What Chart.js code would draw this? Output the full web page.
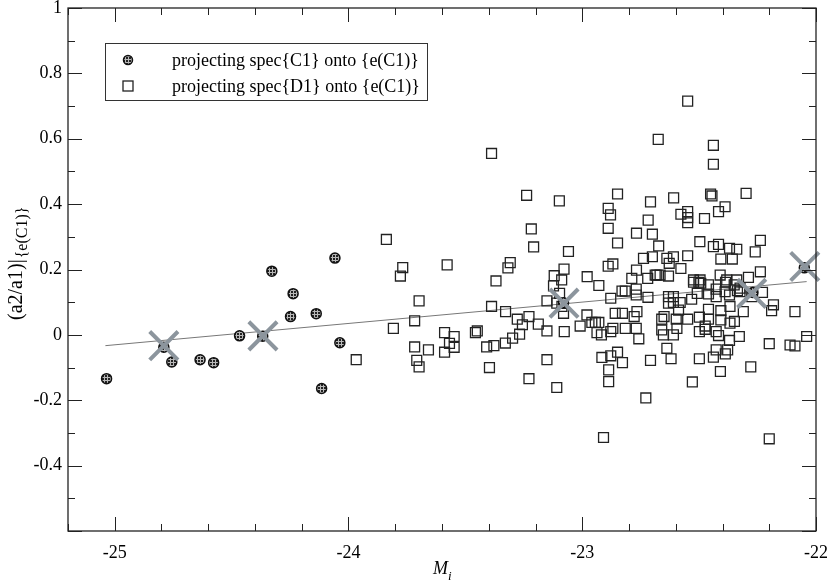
<!DOCTYPE html>
<html>
<head>
<meta charset="UTF-8">
<title>a2/a1 vs M_i</title>
<script src="https://cdn.jsdelivr.net/npm/chart.js"></script>
<style>
  html, body { margin: 0; padding: 0; background: #fff; overflow: hidden; }
  #wrap { width: 830px; height: 582px; position: relative; }
  #chart { display: block; }
</style>
</head>
<body>
<div id="wrap"><canvas id="chart"></canvas></div>
<script>
// spec{C1} projected onto {e(C1)}
var c1X = [-25.035, -24.790, -24.756, -24.635, -24.577, -24.466, -24.367, -24.328, -24.237,
           -24.248, -24.138, -24.058, -24.037, -24.115, -23.080, -22.270, -22.050];
var c1Y = [-0.134, -0.038, -0.083, -0.076, -0.085, -0.003, -0.004, 0.195, 0.126,
           0.056, 0.065, 0.235, -0.024, -0.164, 0.098, 0.130, 0.205];

// spec{D1} projected onto {e(C1)}
var d1X = [-23.388, -23.238, -23.838, -23.218, -23.208, -23.768, -23.778, -23.578, -23.308, -23.318,
           -23.369, -23.698, -23.388, -23.328, -23.278, -23.228, -23.256, -23.188, -23.151, -23.151,
           -23.717, -23.808, -23.589, -23.548, -23.568, -23.548, -23.589, -23.717, -23.658, -23.708,
           -23.698, -23.967, -23.457, -23.449, -23.409, -23.378, -23.329, -23.298, -23.268, -23.397,
           -23.228, -23.151,
           -22.675, -23.098, -22.849, -22.708, -22.889, -22.879, -22.718, -22.889, -22.768, -22.700,
           -23.059, -22.849, -22.673, -22.738, -22.700, -23.078, -22.889, -22.869, -22.768, -23.120,
           -23.088, -22.979, -22.788, -22.720, -22.681,
           -22.929, -22.878, -22.830, -22.816, -22.769, -22.769, -22.719, -23.097, -23.109, -23.087,
           -23.080, -23.077, -23.009, -22.980, -22.959, -22.944, -22.929, -22.937, -22.918, -22.878,
           -22.869, -22.859, -22.828, -22.816, -22.769, -22.778, -22.766, -22.758, -23.109, -22.916,
           -22.878, -22.849, -22.828, -22.887, -22.887, -22.708, -22.728, -22.909, -23.123,
           -22.549, -22.439, -22.439, -22.609, -22.451, -22.445, -22.299, -22.549, -22.578, -22.549,
           -22.549, -22.389, -22.417, -22.477, -22.497, -22.439, -22.417, -22.370, -22.339, -22.238,
           -22.260, -22.407, -22.358, -22.549, -22.638, -22.610, -22.628, -22.578, -22.238, -22.688,
           -22.667, -22.631, -22.524, -22.496, -22.410, -22.382, -22.339, -22.289,
           -22.524, -22.501, -22.493, -22.460, -22.387, -22.350, -22.325, -22.631, -22.610, -22.631,
           -22.610, -22.581, -22.532, -22.508, -22.460, -22.427, -22.427, -22.389, -22.370, -22.336,
           -22.325, -22.275, -22.229, -22.182, -22.190, -22.090, -22.040, -22.660, -22.650, -22.598,
           -22.595, -22.549, -22.588, -22.499, -22.460, -22.460, -22.474, -22.474, -22.407, -22.407,
           -22.368, -22.349, -22.368, -22.311, -22.660, -22.653, -22.610, -22.499, -22.427, -22.417,
           -22.370, -22.328, -22.638, -22.620, -22.499, -22.439, -22.427, -22.388, -22.378, -22.409,
           -22.529, -22.279, -22.200, -22.111, -22.090, -22.200];
var d1Y = [0.555, 0.427, 0.292, 0.324, 0.269, 0.206, 0.180, 0.214, 0.221, 0.205,
           0.165, 0.104, 0.087, 0.071, 0.048, 0.056, 0.031, 0.033, 0.012, 0.104,
           0.043, 0.020, 0.007, -0.005, -0.026, -0.038, -0.053, -0.037, -0.046, -0.078,
           -0.098, -0.076, 0.007, 0.012, -0.037, -0.033, -0.025, -0.010, 0.002, -0.100,
           -0.134, -0.076,
           0.598, 0.410, 0.431, 0.407, 0.387, 0.367, 0.351, 0.326, 0.311, 0.308,
           0.255, 0.281, 0.272, 0.234, 0.239, 0.201, 0.210, 0.217, 0.198, 0.181,
           0.168, 0.178, 0.173, 0.173, 0.183,
           0.151, 0.112, 0.134, 0.134, 0.140, 0.122, 0.115, 0.127, 0.097, 0.087,
           0.066, 0.010, 0.027, 0.061, 0.038, 0.038, 0.038, 0.007, 0.000, 0.010,
           0.020, 0.066, 0.066, 0.020, 0.020, 0.056, 0.071, -0.012, -0.161, -0.069,
           -0.064, -0.053, -0.085, -0.107, -0.143, -0.078, -0.193, -0.314, 0.150,
           0.715, 0.580, 0.522, 0.419, 0.431, 0.425, 0.433, 0.377, 0.369, 0.359,
           0.343, 0.392, 0.377, 0.356, 0.285, 0.270, 0.277, 0.265, 0.262, 0.289,
           0.254, 0.232, 0.232, 0.242, 0.234, 0.239, 0.219, 0.203, 0.193, 0.183,
           0.183, 0.180, 0.168, 0.168, 0.183, 0.168, 0.168, 0.176,
           0.161, 0.161, 0.158, 0.153, 0.161, 0.153, 0.143, 0.117, 0.117, 0.097,
           0.099, 0.099, 0.109, 0.127, 0.125, 0.140, 0.117, 0.132, 0.122, 0.135,
           0.132, 0.117, 0.130, 0.092, 0.074, 0.071, -0.005, 0.048, 0.056, 0.048,
           0.020, 0.048, 0.076, 0.054, 0.078, 0.048, 0.027, 0.017, 0.074, 0.046,
           0.087, 0.041, 0.036, 0.071, 0.015, 0.000, 0.000, 0.010, 0.010, -0.002,
           -0.017, -0.005, -0.041, -0.073, -0.073, -0.068, -0.046, -0.058, -0.046, -0.112,
           -0.144, -0.098, -0.027, -0.031, -0.034, -0.318];

// binned means (grey crosses) and the fitted line
var binX = [-24.790, -24.366, -23.078, -22.275, -22.048];
var binY = [-0.033, -0.003, 0.097, 0.127, 0.209];
var fitX = [-25.04, -22.04];
var fitY = [-0.033, 0.163];

var xTicks = [-25, -24, -23, -22];
var yTicks = [-0.6, -0.4, -0.2, 0, 0.2, 0.4, 0.6, 0.8, 1];

var legendLabels = ["projecting spec{C1} onto {e(C1)}", "projecting spec{D1} onto {e(C1)}"];

function pts(xs, ys) {
    return xs.map(function (x, i) { return { x: x, y: ys[i] }; });
}

// stippled fill for the circles
var pc = document.createElement("canvas");
pc.width = 3; pc.height = 3;
var pctx = pc.getContext("2d");
pctx.fillStyle = "#b8b8b8";
pctx.fillRect(0, 0, 3, 3);
pctx.fillStyle = "#222";
pctx.fillRect(0, 0, 2, 2);
var stipple = pctx.createPattern(pc, "repeat");

var SERIF = '"Liberation Serif", "Times New Roman", serif';

var decor = {
    id: "decor",
    afterDraw: function (chart) {
        var ctx = chart.ctx, a = chart.chartArea;
        var xs = chart.scales.x, ys = chart.scales.y;
        ctx.save();
        ctx.strokeStyle = "#222";
        ctx.lineWidth = 1.3;
        ctx.strokeRect(a.left, a.top, a.right - a.left, a.bottom - a.top);

        // inward ticks on all four sides
        ctx.lineWidth = 1;
        ctx.beginPath();
        for (var i = 0; i <= 16; i++) {
            var v = -25.2 + 0.2 * i;
            var len = Math.abs(v - Math.round(v)) < 1e-6 ? 14 : 7;
            var px = Math.round(xs.getPixelForValue(v)) + 0.5;
            ctx.moveTo(px, a.bottom); ctx.lineTo(px, a.bottom - len);
            ctx.moveTo(px, a.top); ctx.lineTo(px, a.top + len);
        }
        for (var j = 0; j <= 16; j++) {
            var w = -0.6 + 0.1 * j;
            var l2 = Math.abs(w * 5 - Math.round(w * 5)) < 1e-6 ? 14 : 7;
            var py = Math.round(ys.getPixelForValue(w)) + 0.5;
            ctx.moveTo(a.left, py); ctx.lineTo(a.left + l2, py);
            ctx.moveTo(a.right, py); ctx.lineTo(a.right - l2, py);
        }
        ctx.stroke();

        // legend box
        ctx.fillStyle = "#fff";
        ctx.fillRect(105, 43, 322, 57);
        ctx.strokeStyle = "#333";
        ctx.strokeRect(105.5, 43.5, 322, 57);
        ctx.beginPath();
        ctx.arc(128, 60, 4.5, 0, Math.PI * 2);
        ctx.fillStyle = stipple;
        ctx.fill();
        ctx.lineWidth = 1.5;
        ctx.strokeStyle = "#111";
        ctx.stroke();
        ctx.lineWidth = 1.3;
        ctx.strokeStyle = "#222";
        ctx.strokeRect(123, 81, 10, 10);
        ctx.fillStyle = "#000";
        ctx.font = "18px " + SERIF;
        ctx.textBaseline = "middle";
        ctx.textAlign = "left";
        ctx.fillText(legendLabels[0], 172, 61);
        ctx.fillText(legendLabels[1], 172, 87);

        // x title M_i
        ctx.textBaseline = "alphabetic";
        ctx.font = "italic 18px " + SERIF;
        ctx.fillText("M", 433, 574);
        ctx.font = "italic 13px " + SERIF;
        ctx.fillText("i", 448, 580);

        // y title (a2/a1)|_{e(C1)}
        ctx.translate(22, 320);
        ctx.rotate(-Math.PI / 2);
        ctx.font = "20px " + SERIF;
        var main = "(a2/a1)|";
        ctx.fillText(main, 0, 0);
        var mw = ctx.measureText(main).width;
        ctx.font = "16px " + SERIF;
        ctx.fillText("{e(C1)}", mw + 1, 5);
        ctx.restore();
    }
};

var chart = new Chart(document.getElementById("chart"), {
    type: "scatter",
    data: {
        datasets: [
            {
                label: "bins",
                data: pts(binX, binY),
                pointStyle: "crossRot",
                pointRadius: 20,
                borderWidth: 4,
                borderColor: "#8c959d",
                clip: false,
                order: 0
            },
            {
                label: legendLabels[0],
                data: pts(c1X, c1Y),
                pointStyle: "circle",
                pointRadius: 5,
                borderWidth: 1.5,
                borderColor: "#111",
                backgroundColor: stipple,
                order: 1
            },
            {
                label: legendLabels[1],
                data: pts(d1X, d1Y),
                pointStyle: "rect",
                pointRadius: 7,
                borderWidth: 1.3,
                borderColor: "#222",
                backgroundColor: "rgba(0,0,0,0)",
                order: 2
            },
            {
                label: "fit",
                data: pts(fitX, fitY),
                showLine: true,
                pointRadius: 0,
                borderWidth: 1,
                borderColor: "#777",
                order: 3
            }
        ]
    },
    options: {
        responsive: true,
        maintainAspectRatio: false,
        animation: false,
        events: [],
        layout: { autoPadding: false, padding: { top: 8, right: 14, left: 0, bottom: 0 } },
        plugins: { legend: { display: false }, tooltip: { enabled: false } },
        scales: {
            x: {
                type: "linear",
                min: -25.2,
                max: -22,
                grid: { display: false, drawTicks: false },
                border: { display: false },
                afterBuildTicks: function (s) { s.ticks = xTicks.map(function (v) { return { value: v }; }); },
                afterFit: function (s) { s.height = 51; s.paddingLeft = 0; s.paddingRight = 0; },
                ticks: {
                    color: "#000",
                    padding: 11,
                    maxRotation: 0,
                    font: { family: SERIF, size: 18 },
                    callback: function (v) { return String(v); }
                }
            },
            y: {
                min: -0.6,
                max: 1,
                grid: { display: false, drawTicks: false },
                border: { display: false },
                afterBuildTicks: function (s) { s.ticks = yTicks.map(function (v) { return { value: v }; }); },
                afterFit: function (s) { s.width = 68; s.paddingTop = 0; s.paddingBottom = 0; },
                ticks: {
                    color: "#000",
                    padding: 6,
                    font: { family: SERIF, size: 18, lineHeight: 0.2 },
                    callback: function (v) {
                        if (v < -0.59) return "";
                        return String(Math.round(v * 10) / 10);
                    }
                }
            }
        }
    },
    plugins: [decor]
});
</script>
</body>
</html>
